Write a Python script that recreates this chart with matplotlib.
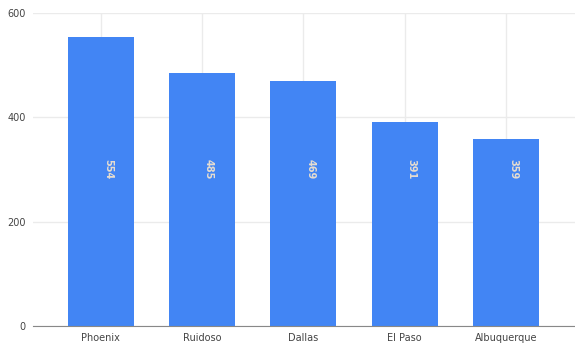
import matplotlib.pyplot as plt

# ciudades y valores
cities = ["Phoenix", "Ruidoso", "Dallas", "El Paso", "Albuquerque"]
values = [554, 485, 469, 391, 359]
yticks = [0, 200, 400, 600]

fig = plt.figure(figsize=(5.75, 3.48), dpi=100)
ax = fig.add_axes([0.057, 0.063, 0.943, 0.9])

x = range(len(cities))
bars = ax.bar(x, values, width=0.65, color="#4285f4", zorder=2)

# etiquetas dentro de cada barra, giradas y algo desplazadas a la derecha
for b, v in zip(bars, values):
    ax.text(b.get_x() + b.get_width() / 2 + 0.07, 300, str(v), rotation=270,
            ha="center", va="center", fontsize=7, fontweight="bold",
            color="#e6ddd0", zorder=3)

ax.set_xlim(-0.67, 4.68)
ax.set_ylim(0, 600)
ax.set_xticks(list(x))
ax.set_xticklabels(cities, fontsize=7, color="#444444")
ax.set_yticks(yticks)
ax.set_yticklabels([str(t) for t in yticks], fontsize=7, color="#444444")

ax.grid(True, color="#ebebeb", linewidth=1, zorder=0)
ax.tick_params(length=0, pad=5)
for s in ["top", "right", "left"]:
    ax.spines[s].set_visible(False)
ax.spines["bottom"].set_color("#888888")
ax.spines["bottom"].set_zorder(4)

fig.savefig("out.png", dpi=100)
